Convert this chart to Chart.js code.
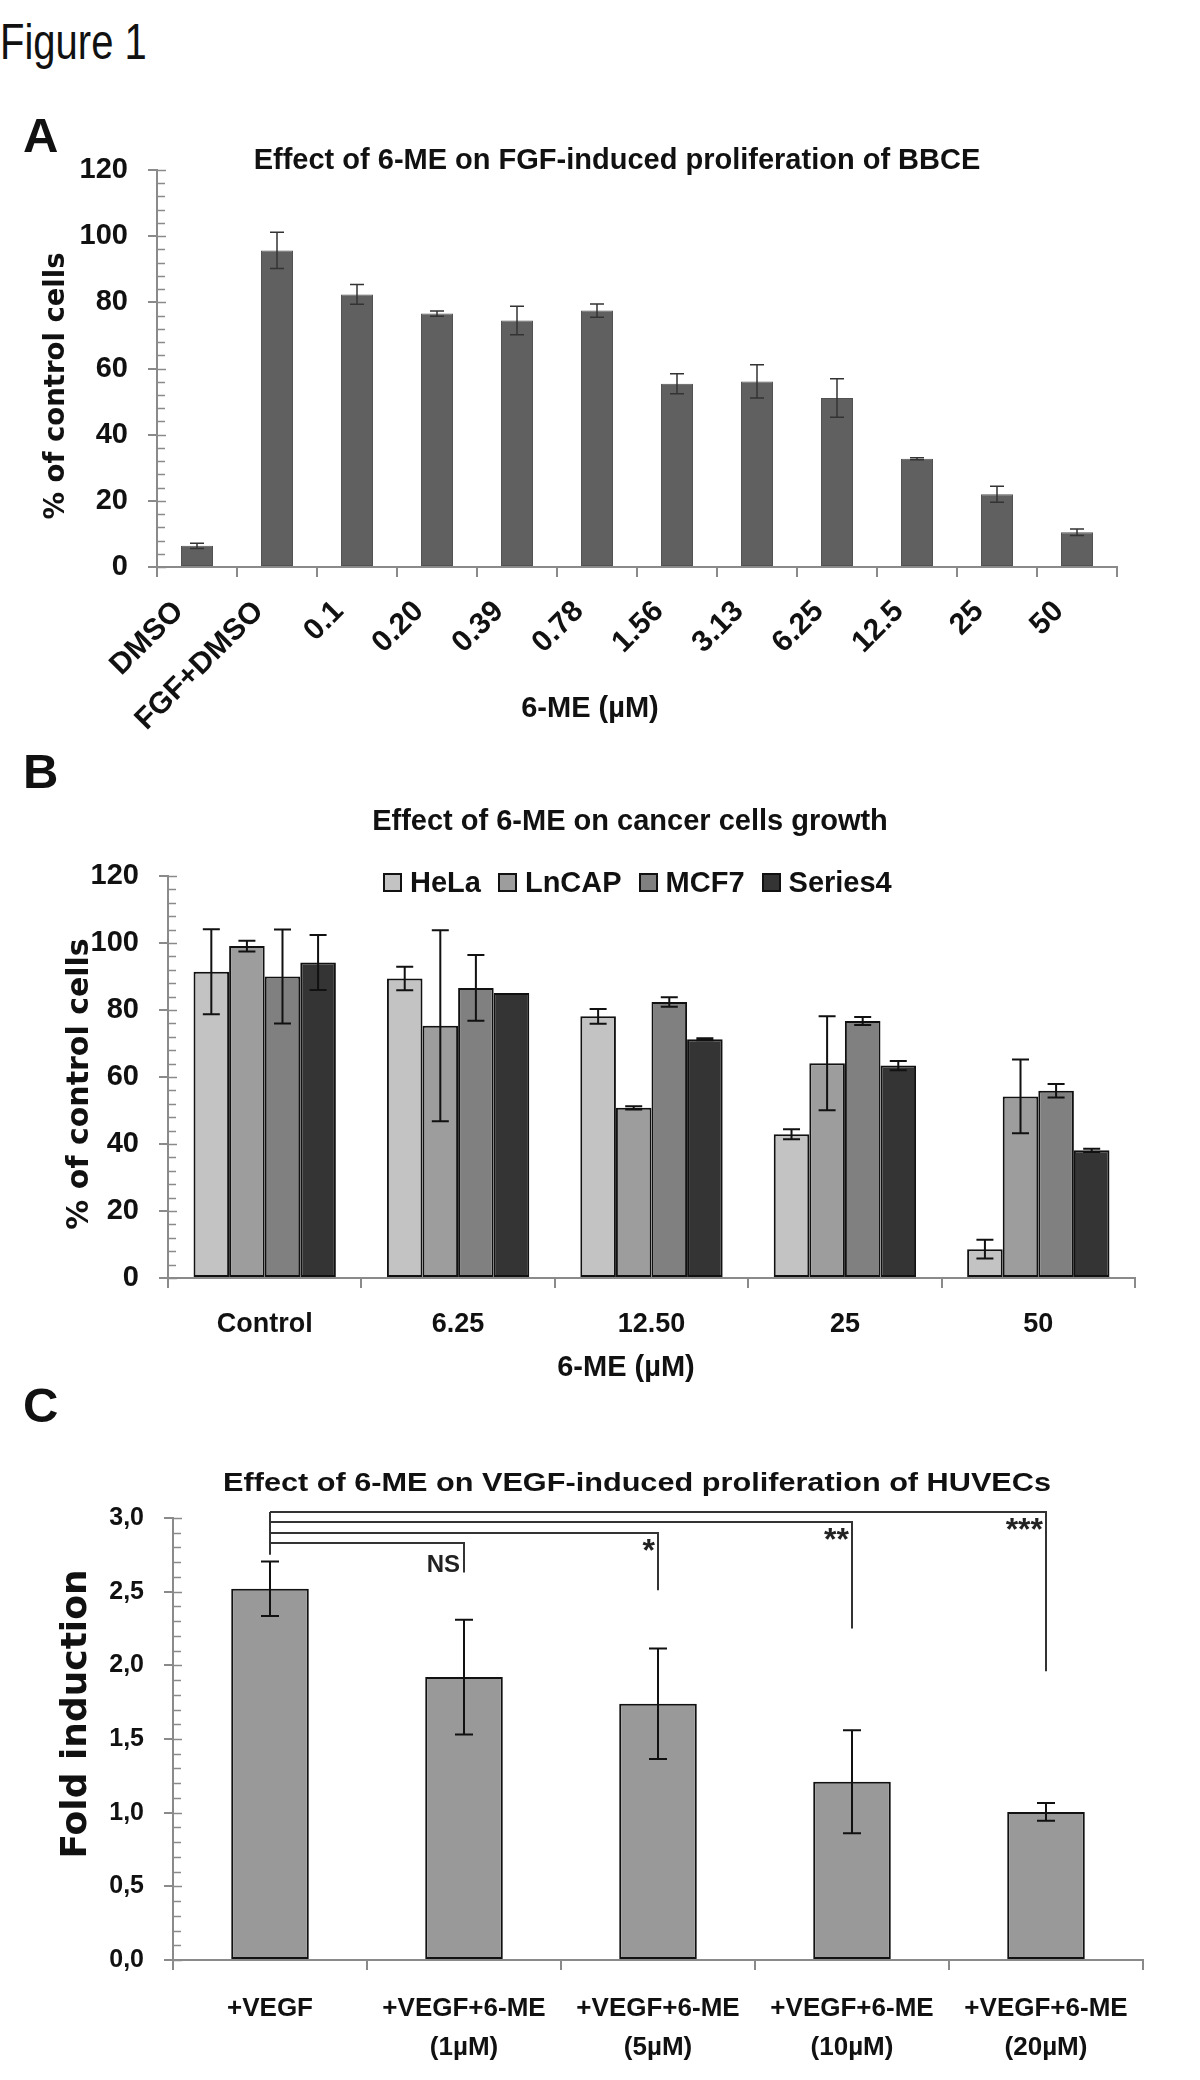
<!DOCTYPE html>
<html>
<head>
<meta charset="utf-8">
<script src="https://cdn.jsdelivr.net/npm/chart.js@4.4.1/dist/chart.umd.min.js"></script>
<style>
  body { margin: 0; background: #fff; width: 1200px; height: 2080px; position: relative; overflow: hidden; }
  .abs { position: absolute; line-height: 1; color: #111; white-space: nowrap; }
  .letter { font: bold 49px 'Liberation Sans', Arial, sans-serif; left: 23px; }
  canvas { position: absolute; left: 0; }
  #legendB { position: absolute; left: 383px; top: 865px; height: 34px; display: flex; align-items: center;
    font: bold 29px 'Liberation Sans', Arial, sans-serif; color: #111; }
  #legendB span.box { display: inline-block; width: 15px; height: 15px; border: 2px solid #111; margin-right: 8px; }
  #legendB span.item { display: flex; align-items: center; margin-right: 17px; }
</style>
</head>
<body>
<div class="abs" style="left:0;top:13px;font:50px 'Liberation Sans', Arial, sans-serif;transform:scaleX(0.8);transform-origin:0 0;">Figure 1</div>
<div class="abs letter" style="top:107px">A</div>
<div class="abs letter" style="top:743px">B</div>
<div class="abs letter" style="top:1377px">C</div>

<canvas id="chartA" width="1200" height="640" style="top:100px"></canvas>
<canvas id="chartB" width="1200" height="660" style="top:740px"></canvas>
<canvas id="chartC" width="1200" height="680" style="top:1400px"></canvas>
<div id="legendB"></div>

<script>
// ---- panel A data ----
const catsA = ['DMSO', 'FGF+DMSO', '0.1', '0.20', '0.39', '0.78', '1.56', '3.13', '6.25', '12.5', '25', '50'];
const valsA = [6.4, 95.7, 82.4, 76.6, 74.5, 77.5, 55.4, 56.1, 51.1, 32.7, 22.0, 10.5];
const errA = [0.8, 5.5, 3.0, 0.8, 4.3, 2.0, 3.0, 5.0, 5.8, 0.3, 2.4, 1.0];
const ticksA = ['0', '20', '40', '60', '80', '100', '120'];

// ---- panel B data ----
const catsB = ['Control', '6.25', '12.50', '25', '50'];
const seriesB = ['HeLa', 'LnCAP', 'MCF7', 'Series4'];
const helaB = [91.4, 89.4, 78.1, 42.9, 8.6];
const lncapB = [99.1, 75.3, 50.8, 64.1, 54.2];
const mcf7B = [90.0, 86.6, 82.4, 76.7, 55.9];
const series4B = [94.2, 85.1, 71.3, 63.4, 38.1];
const helaErrB = [12.7, 3.5, 2.2, 1.5, 2.8];
const lncapErrB = [1.6, 28.5, 0.5, 14.0, 11.0];
const mcf7ErrB = [14.0, 9.8, 1.4, 1.2, 2.0];
const series4ErrB = [8.2, 0, 0.3, 1.4, 0.5];
const ticksB = ['0', '20', '40', '60', '80', '100', '120'];

// ---- panel C data ----
const catsC = [['+VEGF'], ['+VEGF+6-ME', '(1µM)'], ['+VEGF+6-ME', '(5µM)'], ['+VEGF+6-ME', '(10µM)'], ['+VEGF+6-ME', '(20µM)']];
const valsC = [2.52, 1.92, 1.74, 1.21, 1.005];
const errC = [0.185, 0.39, 0.375, 0.35, 0.06];
const ticksC = ['0,0', '0,5', '1,0', '1,5', '2,0', '2,5', '3,0'];
// significance brackets, all compared with +VEGF
const sigTo = [1, 2, 3, 4];
const sigLabels = ['NS', '*', '**', '***'];
const sigLevel = [2.83, 2.90, 2.97, 3.04];
const sigDrop = [2.63, 2.51, 2.25, 1.96];

const colorsB = ['#c3c3c3', '#9d9d9d', '#808080', '#343434'];
const FONT = "'Liberation Sans', Arial, sans-serif";
const WIDE = "'DejaVu Sans', Verdana, sans-serif";
const AXIS = '#8a8a8a';

// free text on the canvas (chart titles, axis titles)
function figText(items) {
    return {
        id: 'figText',
        afterDraw: function (chart) {
            const ctx = chart.ctx;
            items.forEach(function (t) {
                ctx.save();
                ctx.font = t.font;
                ctx.fillStyle = '#111';
                ctx.textAlign = 'center';
                ctx.textBaseline = 'middle';
                ctx.translate(t.x, t.y);
                if (t.rot) ctx.rotate(t.rot);
                if (t.width) ctx.scale(t.width / ctx.measureText(t.text).width, 1);
                ctx.fillText(t.text, 0, 0);
                ctx.restore();
            });
        }
    };
}

// inner half of major ticks + minor ticks on the y axis
function yMinor(step, majorEvery) {
    return {
        id: 'yMinor',
        afterDraw: function (chart) {
            const s = chart.scales.y, ctx = chart.ctx;
            const n = Math.round((s.max - s.min) / step);
            ctx.save();
            ctx.strokeStyle = AXIS;
            ctx.lineWidth = 1.5;
            ctx.beginPath();
            for (let i = 0; i <= n; i++) {
                const py = Math.round(s.getPixelForValue(s.min + i * step)) + 0.5;
                const len = (i % majorEvery === 0) ? 9 : 8;
                ctx.moveTo(s.right, py);
                ctx.lineTo(s.right + len, py);
            }
            ctx.stroke();
            ctx.restore();
        }
    };
}

// error bars drawn over the bars
function errorBars(errs, color, lw, cap) {
    return {
        id: 'errorBars',
        afterDatasetsDraw: function (chart) {
            const ctx = chart.ctx, y = chart.scales.y;
            ctx.save();
            ctx.strokeStyle = color;
            ctx.lineWidth = lw;
            errs.forEach(function (list, i) {
                const vals = chart.data.datasets[i].data;
                chart.getDatasetMeta(i).data.forEach(function (bar, j) {
                    const e = list[j];
                    if (!e) return;
                    const top = y.getPixelForValue(vals[j] + e);
                    const bot = y.getPixelForValue(vals[j] - e);
                    ctx.beginPath();
                    ctx.moveTo(bar.x, top); ctx.lineTo(bar.x, bot);
                    ctx.moveTo(bar.x - cap / 2, top); ctx.lineTo(bar.x + cap / 2, top);
                    ctx.moveTo(bar.x - cap / 2, bot); ctx.lineTo(bar.x + cap / 2, bot);
                    ctx.stroke();
                });
            });
            ctx.restore();
        }
    };
}

// significance brackets for panel C
const sigBrackets = {
    id: 'sigBrackets',
    afterDatasetsDraw: function (chart) {
        const ctx = chart.ctx, x = chart.scales.x, y = chart.scales.y;
        const x0 = x.getPixelForValue(0);
        ctx.save();
        ctx.strokeStyle = '#333';
        ctx.lineWidth = 2;
        ctx.beginPath();
        ctx.moveTo(x0, y.getPixelForValue(Math.max.apply(null, sigLevel)));
        ctx.lineTo(x0, y.getPixelForValue(2.75));
        sigTo.forEach(function (to, k) {
            const x1 = x.getPixelForValue(to);
            const ly = Math.round(y.getPixelForValue(sigLevel[k]));
            ctx.moveTo(x0, ly);
            ctx.lineTo(x1, ly);
            ctx.lineTo(x1, y.getPixelForValue(sigDrop[k]));
        });
        ctx.stroke();
        ctx.fillStyle = '#222';
        ctx.textAlign = 'right';
        ctx.textBaseline = 'alphabetic';
        sigTo.forEach(function (to, k) {
            const x1 = x.getPixelForValue(to);
            if (sigLabels[k] === 'NS') {
                ctx.font = 'bold 24px ' + FONT;
                ctx.fillText(sigLabels[k], x1 - 4, y.getPixelForValue(2.635));
            } else {
                ctx.font = 'bold 32px ' + FONT;
                ctx.fillText(sigLabels[k], x1 - 3, y.getPixelForValue(sigLevel[k] - 0.19));
            }
        });
        ctx.restore();
    }
};

function yAxis(width, max, step, labels, tickSize) {
    return {
        min: 0, max: max,
        afterFit: function (s) { s.width = width; s.paddingTop = 0; s.paddingBottom = 0; },
        ticks: {
            stepSize: step, padding: 20, color: '#111',
            font: { family: FONT, size: tickSize, weight: 'bold' },
            callback: function (v, i) { return labels[i]; }
        },
        grid: { drawOnChartArea: false, tickLength: 9, color: AXIS, lineWidth: 2 },
        border: { color: AXIS, width: 2 }
    };
}

function xAxis(height, tickOpts) {
    return {
        afterFit: function (s) { s.height = height; s.paddingLeft = 0; s.paddingRight = 0; },
        ticks: Object.assign({ autoSkip: false, color: '#111' }, tickOpts),
        grid: { drawOnChartArea: false, tickLength: 10, color: AXIS, lineWidth: 2, offset: true },
        border: { color: AXIS, width: 2 }
    };
}

const base = {
    responsive: false,
    animation: false,
    devicePixelRatio: 1,
    plugins: { legend: { display: false }, tooltip: { enabled: false } }
};
const UP = -Math.PI / 2;

// ---- A ----
new Chart(document.getElementById('chartA'), {
    type: 'bar',
    data: {
        labels: catsA,
        datasets: [{
            data: valsA, backgroundColor: '#606060', borderColor: '#525252', borderWidth: 1,
            borderSkipped: false, barPercentage: 0.4, categoryPercentage: 1
        }]
    },
    options: Object.assign({}, base, {
        layout: { padding: { left: 0, right: 83, top: 70, bottom: 0 } },
        scales: {
            x: xAxis(173, { minRotation: 45, maxRotation: 45, padding: 17, labelOffset: -18, font: { family: FONT, size: 30, weight: 'bold' } }),
            y: yAxis(157, 120, 20, ticksA, 29)
        }
    }),
    plugins: [
        figText([
            { text: 'Effect of 6-ME on FGF-induced proliferation of BBCE', x: 617, y: 61, font: 'bold 29px ' + FONT },
            { text: '6-ME (µM)', x: 590, y: 609, font: 'bold 29px ' + FONT },
            { text: '% of control cells', x: 57, y: 286, rot: UP, font: 'bold 27.5px ' + WIDE }
        ]),
        yMinor(4, 5),
        errorBars([errA], '#333', 1.5, 14)
    ]
});

// ---- B ----
const valsB = [helaB, lncapB, mcf7B, series4B];
new Chart(document.getElementById('chartB'), {
    type: 'bar',
    data: {
        labels: catsB,
        datasets: seriesB.map(function (name, i) {
            return {
                label: name, data: valsB[i], backgroundColor: colorsB[i], borderColor: '#111',
                borderWidth: 2, borderSkipped: false, barPercentage: 1, categoryPercentage: 0.736
            };
        })
    },
    options: Object.assign({}, base, {
        layout: { padding: { left: 0, right: 65, top: 136, bottom: 0 } },
        scales: {
            x: xAxis(122, { maxRotation: 0, padding: 20, font: { family: FONT, size: 27, weight: 'bold' } }),
            y: yAxis(168, 120, 20, ticksB, 29)
        }
    }),
    plugins: [
        figText([
            { text: 'Effect of 6-ME on cancer cells growth', x: 630, y: 82, font: 'bold 29px ' + FONT },
            { text: '6-ME (µM)', x: 626, y: 628, font: 'bold 29px ' + FONT },
            { text: '% of control cells', x: 80, y: 344, rot: UP, font: 'bold 30px ' + WIDE }
        ]),
        yMinor(4, 5),
        errorBars([helaErrB, lncapErrB, mcf7ErrB, series4ErrB], '#111', 2, 17)
    ]
});

// html legend for B
const legendB = document.getElementById('legendB');
seriesB.forEach(function (name, i) {
    const item = document.createElement('span');
    item.className = 'item';
    const box = document.createElement('span');
    box.className = 'box';
    box.style.background = colorsB[i];
    item.appendChild(box);
    item.appendChild(document.createTextNode(name));
    legendB.appendChild(item);
});

// ---- C ----
new Chart(document.getElementById('chartC'), {
    type: 'bar',
    data: {
        labels: catsC,
        datasets: [{
            data: valsC, backgroundColor: '#999999', borderColor: '#111', borderWidth: 2,
            borderSkipped: false, barPercentage: 0.4, categoryPercentage: 1
        }]
    },
    options: Object.assign({}, base, {
        layout: { padding: { left: 0, right: 57, top: 118, bottom: 0 } },
        scales: {
            x: xAxis(120, { maxRotation: 0, padding: 19, font: { family: FONT, size: 26, weight: 'bold', lineHeight: 1.5 } }),
            y: yAxis(173, 3, 0.5, ticksC, 25)
        }
    }),
    plugins: [
        figText([
            { text: 'Effect of 6-ME on VEGF-induced proliferation of HUVECs', x: 637, y: 84, font: 'bold 25px ' + FONT, width: 828 },
            { text: 'Fold induction', x: 77, y: 314, rot: UP, font: 'bold 36px ' + WIDE }
        ]),
        yMinor(0.1, 5),
        errorBars([errC], '#111', 2, 18),
        sigBrackets
    ]
});
</script>
</body>
</html>
